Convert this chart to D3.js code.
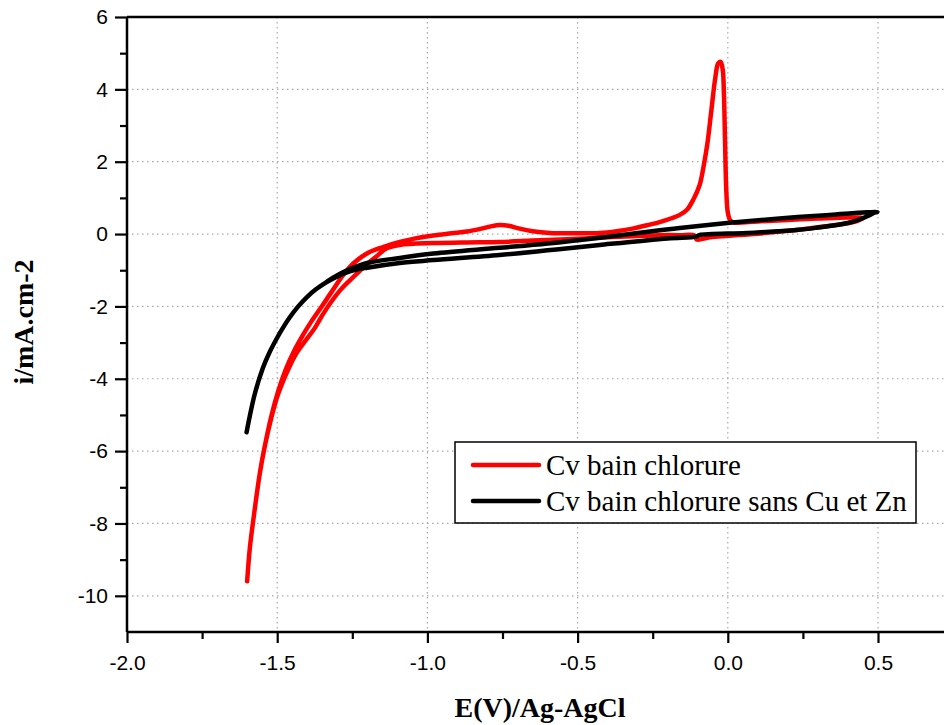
<!DOCTYPE html>
<html>
<head>
<meta charset="utf-8">
<script src="https://cdn.jsdelivr.net/npm/d3@7"></script>
<style>
  html, body { margin: 0; padding: 0; background: #fff; }
  svg { display: block; }
</style>
</head>
<body>
<svg id="chart" width="944" height="725"></svg>
<script>
// Cyclic voltammograms: potential E (V vs Ag-AgCl) and current density i (mA/cm²)
const xTicks = [-2.0, -1.5, -1.0, -0.5, 0.0, 0.5];
const xMinorTicks = [-1.75, -1.25, -0.75, -0.25, 0.25];
const yTicks = [6, 4, 2, 0, -2, -4, -6, -8, -10];
const yMinorTicks = [5, 3, 1, -1, -3, -5, -7, -9];

const seriesNames = ["Cv bain chlorure", "Cv bain chlorure sans Cu et Zn"];

// chloride bath: anodic sweep from -1.6 V, then return sweep
const redE = [
  -1.600, -1.591, -1.574, -1.558, -1.541, -1.520, -1.497, -1.472, -1.445, -1.415,
  -1.385, -1.350, -1.315, -1.280, -1.245, -1.200, -1.148, -1.092, -1.040, -0.980,
  -0.920, -0.869, -0.820, -0.785, -0.760, -0.730, -0.693, -0.650, -0.593, -0.500,
  -0.426, -0.370, -0.317, -0.260, -0.227, -0.190, -0.160, -0.135, -0.115, -0.094,
  -0.080, -0.068, -0.055, -0.042, -0.032, -0.024, -0.017, -0.013, -0.009, -0.005,
  0.000, 0.008, 0.020, 0.100, 0.200, 0.300, 0.400, 0.450,
  0.430, 0.400, 0.300, 0.200, 0.100, 0.000, -0.060, -0.104, -0.110, -0.160,
  -0.227, -0.317, -0.430, -0.536, -0.650, -0.760, -0.870, -0.980, -1.092, -1.135,
  -1.170, -1.200, -1.225, -1.258, -1.290, -1.320, -1.348, -1.375, -1.408, -1.440,
  -1.462, -1.483, -1.502, -1.541, -1.558, -1.574, -1.591, -1.600
];
const redI = [
  -9.60, -8.67, -7.56, -6.62, -5.85, -5.05, -4.35, -3.75, -3.25, -2.80,
  -2.40, -1.98, -1.55, -1.13, -0.80, -0.53, -0.36, -0.22, -0.12, -0.04,
  0.02, 0.07, 0.15, 0.22, 0.25, 0.23, 0.15, 0.08, 0.03, 0.02,
  0.03, 0.08, 0.15, 0.26, 0.33, 0.43, 0.53, 0.68, 0.95, 1.35,
  1.90, 2.50, 3.40, 4.30, 4.72, 4.76, 4.55, 3.90, 2.50, 1.20,
  0.60, 0.38, 0.32, 0.35, 0.39, 0.43, 0.46, 0.44,
  0.36, 0.30, 0.19, 0.09, 0.01, -0.05, -0.09, -0.15, -0.04, -0.03,
  -0.03, -0.06, -0.10, -0.14, -0.18, -0.22, -0.23, -0.25, -0.30, -0.39,
  -0.62, -0.82, -1.02, -1.28, -1.55, -1.87, -2.22, -2.60, -2.97, -3.35,
  -3.72, -4.12, -4.55, -5.85, -6.62, -7.56, -8.67, -9.60
];

// chloride bath without Cu and Zn
const blackE = [
  -1.602, -1.591, -1.574, -1.548, -1.525, -1.501, -1.480, -1.458, -1.430, -1.401,
  -1.370, -1.335, -1.300, -1.258, -1.200, -1.092, -0.980, -0.760, -0.600, -0.426,
  -0.300, -0.160, 0.006, 0.172, 0.339, 0.498,
  0.485, 0.472, 0.430, 0.395, 0.300, 0.229, 0.063, -0.095, -0.105, -0.200,
  -0.426, -0.600, -0.760, -0.980, -1.092, -1.200, -1.258, -1.300, -1.335, -1.370,
  -1.401, -1.430, -1.458, -1.480, -1.501, -1.525, -1.548, -1.574, -1.591, -1.602
];
const blackI = [
  -5.48, -5.02, -4.40, -3.71, -3.26, -2.88, -2.58, -2.30, -2.00, -1.74,
  -1.52, -1.32, -1.14, -0.97, -0.80, -0.66, -0.54, -0.38, -0.26, -0.10,
  0.03, 0.17, 0.31, 0.43, 0.53, 0.61,
  0.58, 0.52, 0.38, 0.30, 0.18, 0.11, 0.03, -0.03, -0.07, -0.12,
  -0.30, -0.45, -0.58, -0.72, -0.80, -0.93, -1.03, -1.17, -1.33, -1.52,
  -1.74, -2.00, -2.30, -2.58, -2.88, -3.26, -3.71, -4.40, -5.02, -5.48
];

const colors = ["#ff0000", "#000000"];

const svg = d3.select("#chart");
const plotLeft = 127, plotTop = 17, plotBottom = 632;

const x = d3.scaleLinear().domain([-2.0, 0.75]).range([plotLeft, plotLeft + 2.75 * 300.4]);
const y = d3.scaleLinear().domain([-11, 6]).range([plotBottom, plotTop]);
const plotRight = x.range()[1];

// dotted grid
const grid = svg.append("g")
  .attr("stroke", "#a8a8a8").attr("stroke-width", 1.2)
  .attr("stroke-dasharray", "1.5,3.5");
grid.selectAll("line.v").data(xTicks.filter(d => d > -2)).join("line")
  .attr("class", "v")
  .attr("x1", d => x(d)).attr("x2", d => x(d))
  .attr("y1", plotTop).attr("y2", plotBottom);
grid.selectAll("line.h").data(yTicks.filter(d => d < 6)).join("line")
  .attr("class", "h")
  .attr("x1", plotLeft).attr("x2", plotRight)
  .attr("y1", d => y(d)).attr("y2", d => y(d));

// curves
const line = d3.line()
  .x(d => x(d[0])).y(d => y(d[1]))
  .curve(d3.curveCatmullRom.alpha(0.5));

const series = [
  d3.zip(redE, redI),
  d3.zip(blackE, blackI)
];
svg.append("g").selectAll("path").data(series).join("path")
  .attr("d", line)
  .attr("fill", "none")
  .attr("stroke", (d, k) => colors[k])
  .attr("stroke-width", 4.5)
  .attr("stroke-linejoin", "round")
  .attr("stroke-linecap", "round");

// axes
const tickFont = "'Liberation Sans', Arial, sans-serif";

const xAxis = svg.append("g").attr("transform", `translate(0,${plotBottom})`)
  .call(d3.axisBottom(x).tickValues(xTicks).tickSize(11).tickPadding(12)
    .tickFormat(d => d.toFixed(1)));
const xMinor = svg.append("g").attr("transform", `translate(0,${plotBottom})`)
  .call(d3.axisBottom(x).tickValues(xMinorTicks).tickSize(7).tickFormat(""));

const yAxis = svg.append("g").attr("transform", `translate(${plotLeft},0)`)
  .call(d3.axisLeft(y).tickValues(yTicks).tickSize(12).tickPadding(7)
    .tickFormat(d => String(d)));
const yMinor = svg.append("g").attr("transform", `translate(${plotLeft},0)`)
  .call(d3.axisLeft(y).tickValues(yMinorTicks).tickSize(7).tickFormat(""));

[xAxis, xMinor, yAxis, yMinor].forEach(g => {
  g.select(".domain").attr("stroke", "#000").attr("stroke-width", 2.5);
  g.selectAll(".tick line").attr("stroke", "#000").attr("stroke-width", 2.2);
  g.selectAll(".tick text")
    .attr("fill", "#000")
    .style("font-family", tickFont)
    .style("font-size", "21px");
});
xMinor.select(".domain").remove();
yMinor.select(".domain").remove();
xAxis.select(".domain").attr("d", `M${plotLeft},0H${plotRight}`);
yAxis.select(".domain").attr("d", `M0,${plotBottom}V${plotTop}`);

// top frame
svg.append("line")
  .attr("x1", plotLeft).attr("x2", plotRight)
  .attr("y1", plotTop).attr("y2", plotTop)
  .attr("stroke", "#000").attr("stroke-width", 2.5);

// axis titles
const titleFont = "'Liberation Serif', 'Times New Roman', serif";
svg.append("text")
  .attr("x", 540).attr("y", 717)
  .attr("text-anchor", "middle")
  .style("font-family", titleFont).style("font-weight", "bold").style("font-size", "28px")
  .text("E(V)/Ag-AgCl");
svg.append("text")
  .attr("transform", "translate(33,322) rotate(-90)")
  .attr("text-anchor", "middle")
  .style("font-family", titleFont).style("font-weight", "bold").style("font-size", "28px")
  .text("i/mA.cm-2");

// legend
const legend = svg.append("g");
legend.append("rect")
  .attr("x", 455).attr("y", 442).attr("width", 461).attr("height", 81)
  .attr("fill", "#fff").attr("stroke", "#000").attr("stroke-width", 1.5);
const rows = legend.selectAll("g.row").data(seriesNames).join("g")
  .attr("class", "row")
  .attr("transform", (d, k) => `translate(0,${465 + k * 36})`);
rows.append("line")
  .attr("x1", 473).attr("x2", 539).attr("y1", 0).attr("y2", 0)
  .attr("stroke", (d, k) => colors[k]).attr("stroke-width", 4.5)
  .attr("stroke-linecap", "round");
rows.append("text")
  .attr("x", 546).attr("y", 10)
  .style("font-family", titleFont).style("font-size", "29px")
  .text(d => d);
</script>
</body>
</html>
